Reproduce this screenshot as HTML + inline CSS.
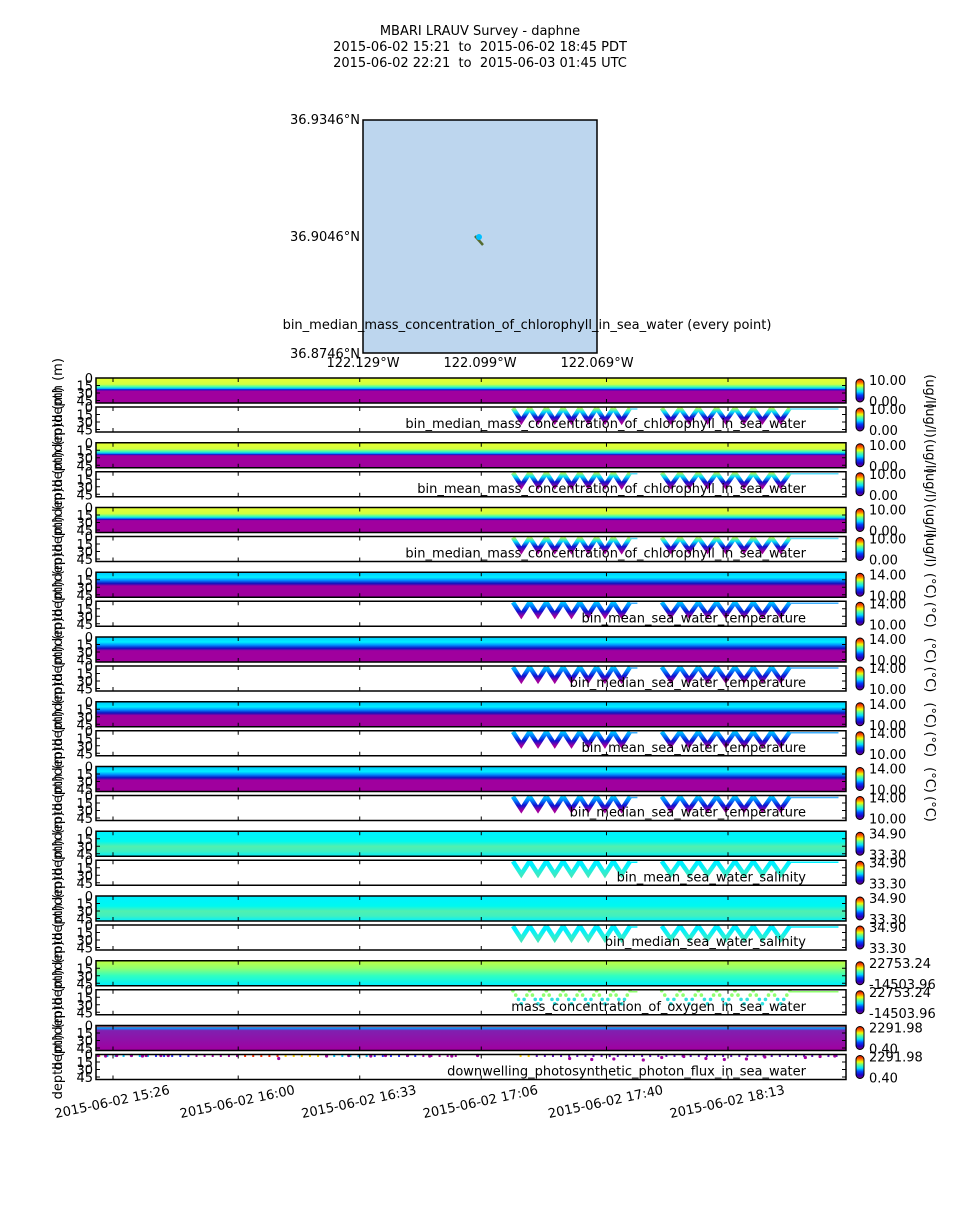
<!DOCTYPE html>
<html><head><meta charset="utf-8">
<style>
body{margin:0;background:#fff;}
svg text{font-family:"DejaVu Sans","Liberation Sans",sans-serif;fill:#000;white-space:pre;}
</style></head>
<body>
<svg id="fig" width="960" height="1200" viewBox="0 0 960 1200" xmlns="http://www.w3.org/2000/svg">
<defs>
<linearGradient id="jet" x1="0" y1="1" x2="0" y2="0">
<stop offset="0" stop-color="#7a007a"/><stop offset="0.15" stop-color="#2000c0"/><stop offset="0.3" stop-color="#0040ff"/><stop offset="0.45" stop-color="#00e0ff"/><stop offset="0.6" stop-color="#60ff90"/><stop offset="0.72" stop-color="#f0ff00"/><stop offset="0.86" stop-color="#ff6000"/><stop offset="1" stop-color="#c00000"/>
</linearGradient>
<linearGradient id="g-chl" x1="0" y1="0" x2="0" y2="1">
<stop offset="0" stop-color="#e8ff30"/><stop offset="0.25" stop-color="#d0ff40"/><stop offset="0.35" stop-color="#40ffb0"/><stop offset="0.42" stop-color="#00c0ff"/><stop offset="0.47" stop-color="#1010d0"/><stop offset="0.52" stop-color="#a0009e"/><stop offset="1" stop-color="#a0009e"/>
</linearGradient>
<linearGradient id="g-temp" x1="0" y1="0" x2="0" y2="1">
<stop offset="0" stop-color="#00c8ff"/><stop offset="0.2" stop-color="#00f0ff"/><stop offset="0.32" stop-color="#0090ff"/><stop offset="0.45" stop-color="#1010c0"/><stop offset="0.55" stop-color="#a0009e"/><stop offset="1" stop-color="#a0009e"/>
</linearGradient>
<linearGradient id="g-sal" x1="0" y1="0" x2="0" y2="1">
<stop offset="0" stop-color="#00f0ff"/><stop offset="0.4" stop-color="#00f8f0"/><stop offset="0.6" stop-color="#50f0b0"/><stop offset="0.8" stop-color="#40f0c0"/><stop offset="1" stop-color="#00f0ff"/>
</linearGradient>
<linearGradient id="g-oxy" x1="0" y1="0" x2="0" y2="1">
<stop offset="0" stop-color="#c0ff40"/><stop offset="0.3" stop-color="#90ff70"/><stop offset="0.6" stop-color="#30ffc0"/><stop offset="1" stop-color="#00f0ff"/>
</linearGradient>
<linearGradient id="g-par" x1="0" y1="0" x2="0" y2="1">
<stop offset="0" stop-color="#ff2000"/><stop offset="0.1" stop-color="#00a0ff"/><stop offset="0.2" stop-color="#8020b0"/><stop offset="1" stop-color="#a000a0"/>
</linearGradient>
</defs>
<g>
<text x="480" y="35" font-size="13" text-anchor="middle">MBARI LRAUV Survey - daphne</text>
<text x="480" y="51" font-size="13" text-anchor="middle">2015-06-02 15:21  to  2015-06-02 18:45 PDT</text>
<text x="480" y="67" font-size="13" text-anchor="middle">2015-06-02 22:21  to  2015-06-03 01:45 UTC</text>
</g>
<g>
<rect x="363" y="120" width="234" height="233" fill="#bdd6ee" stroke="#000" stroke-width="1.5"/>
<path d="M475 236 L483 245" stroke="#556b2f" stroke-width="2.5"/>
<circle cx="479" cy="237" r="3" fill="#00c0ff"/>
<text x="360" y="124" font-size="13" text-anchor="end">36.9346°N</text>
<text x="360" y="241" font-size="13" text-anchor="end">36.9046°N</text>
<text x="360" y="358" font-size="13" text-anchor="end">36.8746°N</text>
<text x="363" y="367" font-size="13" text-anchor="middle">122.129°W</text>
<text x="480" y="367" font-size="13" text-anchor="middle">122.099°W</text>
<text x="597" y="367" font-size="13" text-anchor="middle">122.069°W</text>
<text x="527" y="329" font-size="13" text-anchor="middle">bin_median_mass_concentration_of_chlorophyll_in_sea_water (every point)</text>
</g>
<g id="panels"></g>
<g id="xaxis"></g>
</svg>
<script>
// ---- data ----
const varNames = ["bin_median_mass_concentration_of_chlorophyll_in_sea_water","bin_mean_mass_concentration_of_chlorophyll_in_sea_water","bin_median_mass_concentration_of_chlorophyll_in_sea_water","bin_mean_sea_water_temperature","bin_median_sea_water_temperature","bin_mean_sea_water_temperature","bin_median_sea_water_temperature","bin_mean_sea_water_salinity","bin_median_sea_water_salinity","mass_concentration_of_oxygen_in_sea_water","downwelling_photosynthetic_photon_flux_in_sea_water"];
const varKinds = ["chl","chl","chl","temp","temp","temp","temp","sal","sal","oxy","par"];
const cbMax = ["10.00","10.00","10.00","14.00","14.00","14.00","14.00","34.90","34.90","22753.24","2291.98"];
const cbMin = ["0.00","0.00","0.00","10.00","10.00","10.00","10.00","33.30","33.30","-14503.96","0.40"];
const units = ["(ug/l)","(ug/l)","(ug/l)","(°C)","(°C)","(°C)","(°C)","","","",""];
const depthTicks = [0,15,30,45];
const timeTicks = [26,60,93,126,160,193]; // minutes after 15:00
const timeLabels = ["2015-06-02 15:26","2015-06-02 16:00","2015-06-02 16:33","2015-06-02 17:06","2015-06-02 17:40","2015-06-02 18:13"];
const segStart = [134.6,175.0];   // yo-yo segment start (min)
const segEnd = [166.4,209.8];
const segCycles = [7,7];
const profileDepths = [2,28];     // top, bottom of yo-yo (m)
const parDotsT = [22,24,27,31,34,35,39,41,71,84,90,96,100,106,112,118,125,150,156,162,170,175,181,187,192,198,203,214,218,222];
const parDotsD = [2,3,2,2,3,2,2,2,8,3,2,3,2,2,3,3,2,8,10,9,11,6,4,8,10,9,5,6,4,3];

// ---- axes ----
const X0=96, X1=846, PTOP=378, PITCH=64.75, PH=25, GAP=4, DMAX=50;
function xs(t){return 113 + (t-26)*(615/167);}
function ys(d,top){return top + d/DMAX*PH;}
const NS="http://www.w3.org/2000/svg";
function mk(tag,attrs,parent){const e=document.createElementNS(NS,tag);for(const k in attrs)e.setAttribute(k,attrs[k]);parent.appendChild(e);return e;}
const grads={chl:"url(#g-chl)",temp:"url(#g-temp)",sal:"url(#g-sal)",oxy:"url(#g-oxy)",par:"url(#g-par)"};
const lineCol={chl:["#f0ff20","#00e0ff","#1010d0","#a0009e"],temp:["#00e0ff","#0080ff","#1010d0","#a0009e"],sal:["#00f0ff","#00f0ff","#20f0e0","#40e8c0"]};
const P=document.getElementById('panels');
const defs=document.querySelector('defs');

function axesFrame(g,top){
  mk('rect',{x:X0,y:top,width:X1-X0,height:PH,fill:'none',stroke:'#000','stroke-width':1.5},g);
  depthTicks.forEach(d=>{
    const y=ys(d,top);
    mk('line',{x1:X0,y1:y,x2:X0+4,y2:y,stroke:'#000'},g);
    mk('line',{x1:X1-4,y1:y,x2:X1,y2:y,stroke:'#000'},g);
    const t=mk('text',{x:X0-3,y:y+5,'font-size':13,'text-anchor':'end'},g);t.textContent=d;
  });
  timeTicks.forEach(tt=>{const x=xs(tt);mk('line',{x1:x,y1:top+PH,x2:x,y2:top+PH-4,stroke:'#000'},g);mk('line',{x1:x,y1:top,x2:x,y2:top+4,stroke:'#000'},g);});
  const l=mk('text',{x:0,y:0,'font-size':13,'text-anchor':'middle',transform:`translate(62,${top+PH/2}) rotate(-90)`},g);l.textContent='depth (m)';
}
function colorbar(g,top,mx,mn,unit){
  mk('rect',{x:856,y:top,width:8,height:PH-2,rx:4,fill:'url(#jet)',stroke:'#000','stroke-width':1},g);
  let t=mk('text',{x:869,y:top+6,'font-size':13},g);t.textContent=mx;
  t=mk('text',{x:869,y:top+PH+2,'font-size':13},g);t.textContent=mn;
  if(unit){t=mk('text',{x:0,y:0,'font-size':13,'text-anchor':'middle',transform:`translate(926,${top+PH/2}) rotate(90)`},g);t.textContent=unit;}
}
for(let i=0;i<varNames.length;i++){
  const kind=varKinds[i];
  const top1=PTOP+i*PITCH, top2=top1+PH+GAP;
  const g=mk('g',{},P);
  
  
  const c=mk('rect',{x:X0,y:top1,width:X1-X0,height:PH,fill:grads[kind]},g);
  
  
  axesFrame(g,top1);
  colorbar(g,top1+1,cbMax[i],cbMin[i],units[i]);
  const pg=mk('g',{},g);
  
  
  if(kind==='par'){
    const cols=['#ff3000','#ffd000','#00c0ff','#3030ff','#a000a0'];
    for(let t=22;t<224;t+=2.2){const cc=cols[Math.floor(t/12)%5]; if(t>120&&t<135)continue; mk('rect',{x:xs(t),y:ys(1,top2),width:2,height:2,fill:t>140?'#6010c0':cc},pg);}
    parDotsT.forEach((t,k)=>{const d=mk('circle',{cx:xs(t),cy:ys(parDotsD[k],top2),r:1.6,fill:'#a000a0'},pg);});
  } else {
    for(let s=0;s<segStart.length;s++){
      const n=segCycles[s], dt=(segEnd[s]-segStart[s])/n;
      for(let k=0;k<n;k++){
        const ta=segStart[s]+k*dt, tb=ta+dt/2, tc=ta+dt;
        const pts=[[ta,profileDepths[0]],[tb,profileDepths[1]],[tc,profileDepths[0]]];
        if(kind==='oxy'){
          for(let m=0;m<=6;m++){const f=m/6;const t=f<0.5?ta+(tb-ta)*f*2:tb+(tc-tb)*(f-0.5)*2;const d=f<0.5?profileDepths[0]+(profileDepths[1]-profileDepths[0])*f*2:profileDepths[1]-(profileDepths[1]-profileDepths[0])*(f-0.5)*2;
            const dot=mk('circle',{cx:xs(t),cy:ys(d,top2),r:1.8,fill:d>14?'#30e0e0':'#90ff70'},pg);}
        } else {
          const gid='lg'+i;
          if(!document.getElementById(gid)){const lg=mk('linearGradient',{id:gid,x1:0,y1:top2,x2:0,y2:top2+PH*0.6,gradientUnits:'userSpaceOnUse'},defs);const lc=lineCol[kind];lc.forEach((col,q)=>mk('stop',{offset:q/(lc.length-1),'stop-color':col},lg));}
          const pl=mk('polyline',{points:pts.map(p=>xs(p[0])+','+ys(p[1],top2)).join(' '),fill:'none',stroke:`url(#${gid})`,'stroke-width':4.5},pg);
          
          
        }
      }
      mk('line',{x1:xs(segEnd[s]),y1:top2+2,x2:xs(s===0?segEnd[s]+2:223),y2:top2+2,stroke:kind==='temp'?'#40b0ff':(kind==='sal'?'#00f0ff':(kind==='oxy'?'#90ff70':'#60e0ff')),'stroke-width':1.5},pg);
    }
  }
  axesFrame(g,top2);
  colorbar(g,top2+1,cbMax[i],cbMin[i],units[i]);
  const tl=mk('text',{x:806,y:top2+PH-4,'font-size':13,'text-anchor':'end'},g);tl.textContent=varNames[i];
  
  
}
const XA=document.getElementById('xaxis');


timeTicks.forEach((t,k)=>{
  const x=xs(t);
  const tx=mk('text',{x:0,y:0,'font-size':13,'text-anchor':'middle',transform:`translate(${x},${1106}) rotate(-12)`},XA);
  tx.textContent=timeLabels[k];
  
  
});
</script>
</body></html>
